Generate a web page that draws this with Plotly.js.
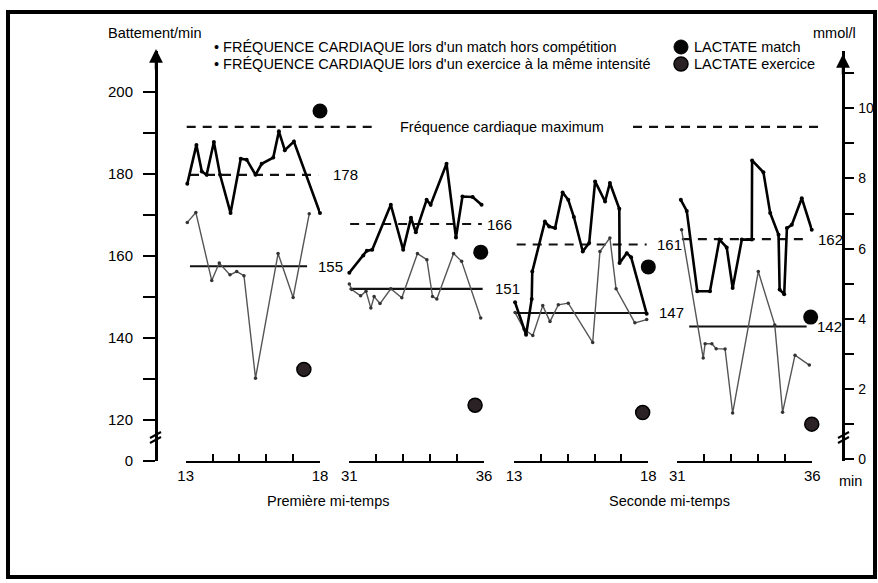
<!DOCTYPE html>
<html>
<head>
<meta charset="utf-8">
<script src="https://cdn.plot.ly/plotly-3.0.1.min.js"></script>
<style>html,body{margin:0;padding:0;background:#fff;}#chart{width:878px;height:583px;}</style>
</head>
<body>
<div id="chart"></div>
<script>
// ---------- DATA ----------
// Heart rate, match (thick black) and exercise (thin grey), per panel (minutes)
const p1MatchT  = [13.06, 13.4, 13.6, 13.78, 14.05, 14.28, 14.67, 15.05, 15.27, 15.6, 15.83, 16.26, 16.47, 16.69, 17.03, 18.0];
const p1MatchHR = [177.6, 187.1, 180.6, 179.8, 187.8, 179.8, 170.5, 183.7, 183.5, 179.8, 182.5, 184.0, 190.4, 185.8, 187.9, 170.5];
const p1ExT     = [13.06, 13.38, 13.97, 14.25, 14.65, 14.9, 15.17, 15.6, 16.44, 17.0, 17.6];
const p1ExHR    = [168.2, 170.6, 154.0, 158.3, 155.4, 156.2, 155.2, 130.2, 160.6, 149.9, 170.3];

const p2MatchT  = [31.0, 31.52, 31.65, 31.85, 32.54, 33.0, 33.29, 33.47, 33.87, 34.02, 34.61, 34.96, 35.2, 35.58, 35.91];
const p2MatchHR = [155.9, 160.1, 161.3, 161.5, 172.5, 161.5, 169.3, 165.8, 173.7, 172.5, 182.5, 164.5, 174.5, 174.4, 172.5];
const p2ExT     = [31.0, 31.09, 31.42, 31.62, 31.8, 31.92, 32.14, 32.54, 32.95, 33.53, 33.88, 34.09, 34.25, 34.87, 35.17, 35.88];
const p2ExHR    = [153.2, 151.8, 150.3, 151.4, 147.3, 150.1, 148.4, 152.0, 149.8, 160.6, 159.1, 150.1, 149.5, 160.6, 158.7, 144.9];

const p3MatchT  = [13.04, 13.45, 13.66, 13.68, 14.15, 14.31, 14.53, 14.81, 15.02, 15.23, 15.56, 15.8, 16.02, 16.39, 16.57, 16.92, 16.93, 17.2, 17.36, 17.94];
const p3MatchHR = [148.7, 140.8, 149.5, 156.2, 168.4, 167.2, 166.8, 175.5, 173.7, 169.5, 161.1, 163.2, 178.2, 173.3, 177.8, 171.5, 158.3, 160.7, 159.7, 145.9];
const p3ExT     = [13.04, 13.37, 13.7, 14.07, 14.34, 14.65, 15.02, 15.93, 16.2, 16.57, 16.8, 17.5, 17.94];
const p3ExHR    = [146.2, 142.2, 140.6, 147.9, 144.0, 148.1, 148.5, 138.9, 161.1, 164.4, 152.0, 143.7, 144.5];

const p4MatchT  = [31.13, 31.35, 31.74, 32.21, 32.56, 32.83, 33.05, 33.39, 33.76, 33.77, 34.19, 34.44, 34.75, 34.79, 34.96, 35.06, 35.24, 35.61, 35.98];
const p4MatchHR = [173.7, 171.0, 151.4, 151.4, 164.0, 162.1, 152.2, 164.0, 164.0, 183.3, 180.4, 170.5, 165.2, 151.8, 150.7, 166.8, 167.6, 174.1, 166.4];
const p4ExT     = [31.16, 31.96, 32.03, 32.28, 32.44, 32.77, 33.05, 34.0, 34.61, 34.9, 35.36, 35.89];
const p4ExHR    = [166.4, 135.1, 138.6, 138.6, 137.4, 137.3, 121.7, 156.2, 143.2, 121.9, 135.8, 133.4];

// Means (position) and their printed labels
const meanMatch       = [179.8, 167.8, 162.8, 164.1];
const meanMatchLabels = ['178', '166', '161', '162'];
const meanMatchStart  = [13.16, 31.03, 13.1, 31.17];
const meanMatchEnd    = [17.93, 35.92, 17.94, 35.84];
const meanEx          = [157.5, 152.0, 146.1, 142.8];
const meanExLabels    = ['155', '151', '147', '142'];
const meanExStart     = [13.16, 31.0, 13.04, 31.44];
const meanExEnd       = [17.52, 35.95, 17.94, 35.79];

// Lactate (mmol/l)
const lactMatchT = [18.0, 35.88, 18.0, 35.94];
const lactMatch  = [9.92, 5.9, 5.48, 4.05];
const lactExT    = [17.4, 35.67, 17.79, 35.98];
const lactEx     = [2.56, 1.54, 1.33, 1.0];

const maxHR = 191.5;

// Axis ticks
const hrTickVals   = [110, 120, 130, 140, 150, 160, 170, 180, 190, 200];
const hrTickText   = ['0', '120', '', '140', '', '160', '', '180', '', '200'];
const lactTickVals = [0, 1, 2, 3, 4, 5, 6, 7, 8, 9, 10, 11];
const lactTickText = ['0', '', '2', '', '4', '', '6', '', '8', '', '10', ''];
const firstHalfMin  = [13, 14, 15, 16, 17, 18];
const secondHalfMin = [31, 32, 33, 34, 35, 36];
const minTickText   = ['13', '', '', '', '', '18'];
const min2TickText  = ['31', '', '', '', '', '36'];

// ---------- CHART ----------
const FONT = 'Liberation Sans, Arial, Helvetica, sans-serif';
const xAx = ['x', 'x2', 'x3', 'x4'];
const matchT = [p1MatchT, p2MatchT, p3MatchT, p4MatchT];
const matchHR = [p1MatchHR, p2MatchHR, p3MatchHR, p4MatchHR];
const exT = [p1ExT, p2ExT, p3ExT, p4ExT];
const exHR = [p1ExHR, p2ExHR, p3ExHR, p4ExHR];

const traces = [];
const annotations = [];
const labelShift = [[13, 9], [3, 10], [8, 10], [8, 8]];

for (let i = 0; i < 4; i++) {
  traces.push({x: [meanMatchStart[i], meanMatchEnd[i]], y: [meanMatch[i], meanMatch[i]], xaxis: xAx[i], yaxis: 'y',
    mode: 'lines', line: {color: '#111', width: 2.2, dash: '9px,7px'}, hoverinfo: 'skip'});
  traces.push({x: [meanExStart[i], meanExEnd[i]], y: [meanEx[i], meanEx[i]], xaxis: xAx[i], yaxis: 'y',
    mode: 'lines', line: {color: '#111', width: 2.2}, hoverinfo: 'skip'});
  traces.push({x: exT[i], y: exHR[i], xaxis: xAx[i], yaxis: 'y', mode: 'lines+markers', cliponaxis: false,
    line: {color: '#555', width: 1.4}, marker: {color: '#333', size: 3.5}});
  traces.push({x: matchT[i], y: matchHR[i], xaxis: xAx[i], yaxis: 'y', mode: 'lines+markers', cliponaxis: false,
    line: {color: '#000', width: 2.6}, marker: {color: '#000', size: 4}});
  traces.push({x: [lactMatchT[i]], y: [lactMatch[i]], xaxis: xAx[i], yaxis: 'y2', mode: 'markers', cliponaxis: false,
    marker: {color: '#050505', size: 15}});
  traces.push({x: [lactExT[i]], y: [lactEx[i]], xaxis: xAx[i], yaxis: 'y2', mode: 'markers', cliponaxis: false,
    marker: {color: '#2a2225', size: 14, line: {color: '#000', width: 1.5}}});
  annotations.push({x: meanMatchEnd[i], y: meanMatch[i], xref: xAx[i], yref: 'y', text: meanMatchLabels[i],
    showarrow: false, xanchor: 'left', yanchor: 'middle', xshift: labelShift[i][0], font: {size: 15, color: '#000', family: FONT}});
  annotations.push({x: meanExEnd[i], y: meanEx[i], xref: xAx[i], yref: 'y', text: meanExLabels[i],
    showarrow: false, xanchor: 'left', yanchor: 'middle', xshift: labelShift[i][1], font: {size: 15, color: '#000', family: FONT}});
}

// paper helpers (plot area: l=156, t=51, w=687, h=410)
const PX = px => (px - 156) / 687;
const PY = py => (461 - py) / 410;

const txt = (text, x, y, xanchor, size) => ({text, x: PX(x), y: PY(y), xref: 'paper', yref: 'paper',
  showarrow: false, xanchor, yanchor: 'middle', font: {size, color: '#000', family: FONT}});

annotations.push(
  txt('Battement/min', 155, 33, 'center', 14.5),
  txt('mmol/l', 834, 33, 'center', 14.5),
  txt('• FRÉQUENCE CARDIAQUE lors d\'un match hors compétition', 212, 47, 'left', 14.5),
  txt('• FRÉQUENCE CARDIAQUE lors d\'un exercice à la même intensité', 212, 64, 'left', 14.5),
  txt('LACTATE match', 692, 47, 'left', 14.5),
  txt('LACTATE exercice', 692, 64, 'left', 14.5),
  txt('Première mi-temps', 328, 501, 'center', 14.5),
  txt('Seconde mi-temps', 669, 501, 'center', 14.5),
  txt('min', 850, 481, 'center', 14.5),
  {text: 'Fréquence cardiaque maximum', x: PX(398), y: maxHR, xref: 'paper', yref: 'y', showarrow: false,
   xanchor: 'left', yanchor: 'middle', font: {size: 14.5, color: '#000', family: FONT}},
  // axis arrows
  {x: 0, y: PY(49), xref: 'paper', yref: 'paper', ax: 0, ay: 22, text: '',
   showarrow: true, arrowhead: 2, arrowsize: 1.1, arrowwidth: 2.5, arrowcolor: '#000'},
  {x: 1, y: PY(54), xref: 'paper', yref: 'paper', ax: 0, ay: 22, text: '',
   showarrow: true, arrowhead: 2, arrowsize: 1.1, arrowwidth: 2.5, arrowcolor: '#000'}
);

const seg = (x0, y0, x1, y1, w) => ({type: 'line', xref: 'paper', yref: 'paper', x0: PX(x0), y0: PY(y0), x1: PX(x1), y1: PY(y1),
  line: {color: '#000', width: w}});

const shapes = [
  // max heart rate dashed line
  {type: 'line', xref: 'paper', yref: 'y', x0: PX(186.7), x1: PX(371.7), y0: maxHR, y1: maxHR, line: {color: '#111', width: 2.2, dash: '9px,7px'}},
  {type: 'line', xref: 'paper', yref: 'y', x0: PX(633), x1: PX(818), y0: maxHR, y1: maxHR, line: {color: '#111', width: 2.2, dash: '9px,7px'}},
  // axis break marks
  seg(150, 438, 161, 432, 2), seg(150, 443, 161, 437, 2),
  seg(838, 438, 849, 432, 2), seg(838, 443, 849, 437, 2),
  // legend dots
  {type: 'circle', xref: 'paper', yref: 'paper', xsizemode: 'pixel', ysizemode: 'pixel', xanchor: PX(681), yanchor: PY(47),
   x0: -7, x1: 7, y0: -7, y1: 7, fillcolor: '#050505', line: {color: '#000', width: 1}},
  {type: 'circle', xref: 'paper', yref: 'paper', xsizemode: 'pixel', ysizemode: 'pixel', xanchor: PX(681), yanchor: PY(64),
   x0: -7, x1: 7, y0: -7, y1: 7, fillcolor: '#2a2225', line: {color: '#000', width: 1.5}},
  // frame
  {type: 'rect', xref: 'paper', yref: 'paper', x0: PX(8), x1: PX(875), y0: PY(577), y1: PY(12), line: {color: '#000', width: 4}, layer: 'above'}
];

const xBase = {anchor: 'y', showline: true, linewidth: 2.4, linecolor: '#000', ticks: 'inside', ticklen: 7, tickwidth: 2,
  tickcolor: '#000', showgrid: false, zeroline: false, tickfont: {size: 15, family: FONT, color: '#000'}, tickangle: 0};

const layout = {
  width: 878, height: 583,
  margin: {l: 156, r: 35, t: 51, b: 122},
  paper_bgcolor: '#fff', plot_bgcolor: '#fff',
  showlegend: false, hovermode: false,
  font: {family: FONT, color: '#000'},
  xaxis:  Object.assign({}, xBase, {domain: [0.0432, 0.2387], range: [13, 18], tickvals: firstHalfMin, ticktext: minTickText}),
  xaxis2: Object.assign({}, xBase, {domain: [0.2814, 0.4774], range: [31, 36], tickvals: secondHalfMin, ticktext: min2TickText}),
  xaxis3: Object.assign({}, xBase, {domain: [0.5211, 0.7166], range: [13, 18], tickvals: firstHalfMin, ticktext: minTickText}),
  xaxis4: Object.assign({}, xBase, {domain: [0.7588, 0.9553], range: [31, 36], tickvals: secondHalfMin, ticktext: min2TickText}),
  yaxis: {domain: [0, 1], range: [110, 210], anchor: 'free', position: 0, tickvals: hrTickVals, ticktext: hrTickText,
    ticks: 'outside', ticklen: 12, tickwidth: 2, tickcolor: '#000', showline: true, linewidth: 2.5, linecolor: '#000',
    showgrid: false, zeroline: false, ticklabelstandoff: 7, tickfont: {size: 15, family: FONT, color: '#000'}},
  yaxis2: {domain: [0, 1], range: [-0.05, 11.63], overlaying: 'y', side: 'right', anchor: 'free', position: 1,
    tickvals: lactTickVals, ticktext: lactTickText, ticks: 'outside', ticklen: 9, tickwidth: 2, tickcolor: '#000',
    showline: true, linewidth: 2.5, linecolor: '#000', showgrid: false, zeroline: false, ticklabelstandoff: 2,
    tickfont: {size: 14, family: FONT, color: '#000'}},
  annotations, shapes
};

Plotly.newPlot('chart', traces, layout, {displayModeBar: false, staticPlot: true});
</script>
</body>
</html>
